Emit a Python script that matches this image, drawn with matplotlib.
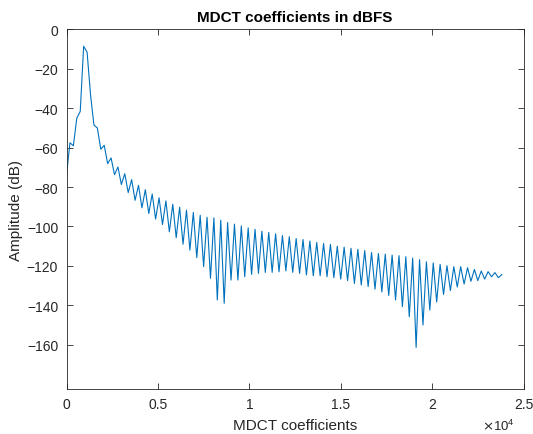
import numpy as np
import matplotlib
matplotlib.use("Agg")
import matplotlib.pyplot as plt
from matplotlib.ticker import FuncFormatter

# MDCT bin spacing and magnitudes (dBFS), 128 bins
bin_step = 187.5
mdct_db = [
    -74.0, -57.5, -59.0, -45.0, -41.6, -8.5, -11.5, -33.0, -48.5, -50.0,
    -60.8, -58.8, -68.1, -65.2, -73.7, -69.8, -78.7, -73.2, -82.8, -76.2,
    -86.7, -79.1, -90.5, -81.3, -93.4, -83.5, -96.2, -85.4, -99.0, -87.0,
    -102.7, -88.7, -105.7, -90.2, -109.0, -91.7, -112.0, -92.9, -115.8, -94.3,
    -120.4, -95.3, -126.3, -95.6, -137.3, -96.8, -139.0, -98.0, -127.2, -98.8,
    -127.2, -99.7, -125.5, -100.7, -124.3, -101.4, -123.8, -102.4, -123.3, -103.0,
    -123.3, -103.7, -123.0, -104.6, -122.5, -105.2, -123.3, -106.1, -123.8, -106.6,
    -124.6, -107.4, -125.0, -108.1, -125.0, -108.6, -125.5, -109.1, -126.0, -110.0,
    -126.7, -110.5, -127.5, -111.1, -128.9, -111.6, -129.7, -112.2, -130.5, -113.2,
    -131.8, -113.7, -133.2, -114.0, -135.0, -114.5, -137.3, -114.8, -140.7, -115.3,
    -145.8, -116.0, -161.4, -116.8, -150.0, -117.9, -142.4, -118.5, -138.3, -119.2,
    -134.5, -119.9, -132.5, -120.4, -130.7, -120.4, -129.2, -120.9, -127.8, -121.8,
    -127.5, -122.6, -126.7, -122.9, -125.5, -123.4, -126.0, -124.4,
]
bins = np.arange(len(mdct_db)) * bin_step

x_ticks = [0, 5000, 10000, 15000, 20000, 25000]
y_ticks = [-160, -140, -120, -100, -80, -60, -40, -20, 0]

plt.rcParams['font.family'] = ['Liberation Sans', 'DejaVu Sans']

fig = plt.figure(figsize=(5.33, 4.35), dpi=100)
ax = fig.add_axes([0.1248, 0.1034, 0.8574, 0.8265])

ax.plot(bins, mdct_db, color='#0072BD', linewidth=0.8)

ax.set_xlim(0, 25000)
ax.set_ylim(-182.5, 0)
ax.set_xticks(x_ticks)
ax.set_yticks(y_ticks)
ax.xaxis.set_major_formatter(FuncFormatter(lambda v, p: f"{v / 1e4:g}"))

# matlab-ish axes: grey box, inward ticks on every side
for s in ax.spines.values():
    s.set_color('#262626')
    s.set_linewidth(0.6)
ax.tick_params(direction='in', length=4, width=0.6, colors='#262626',
               labelsize=10, top=True, right=True, pad=6)

ax.set_title('MDCT coefficients in dBFS', fontsize=11, fontweight='bold', pad=6)
ax.set_xlabel('MDCT coefficients', fontsize=11, color='#262626', labelpad=5)
ax.set_ylabel('Amplitude (dB)', fontsize=11, color='#262626', labelpad=3)
# exponent of the x tick labels, bottom right
ax.text(0.981, -0.1, r'$\times\mathdefault{10^{4}}$', transform=ax.transAxes,
        ha='right', va='center', fontsize=9.5, color='#262626')

plt.savefig('out.png', dpi=100)
